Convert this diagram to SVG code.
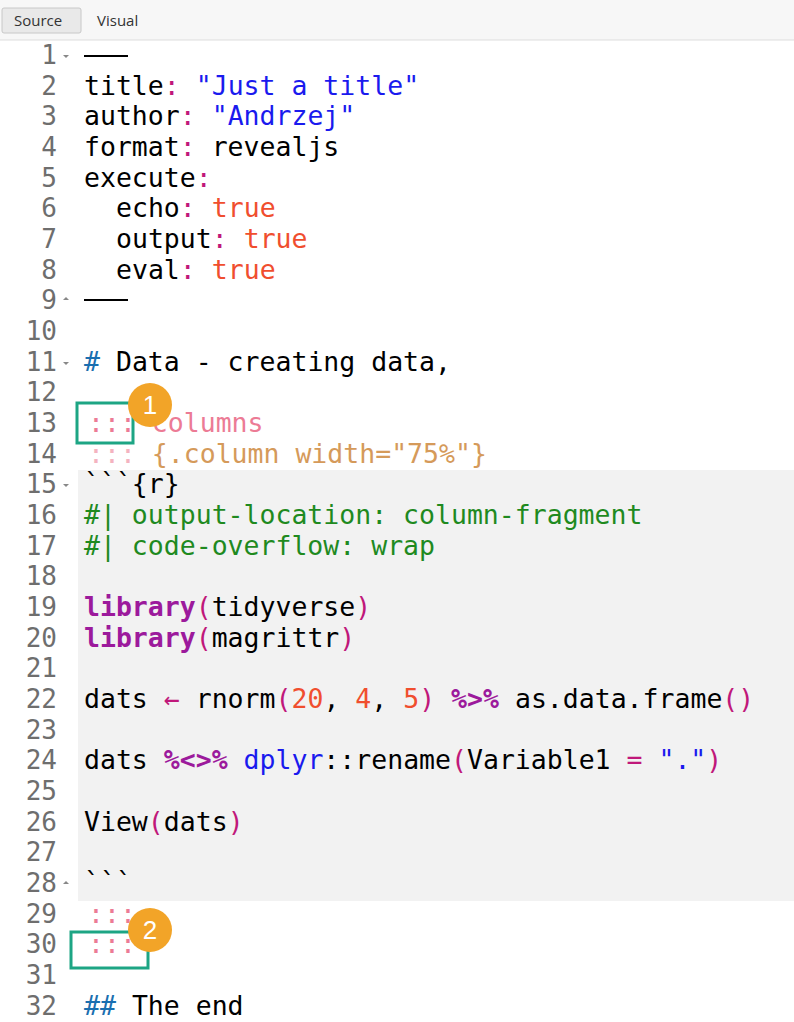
<svg xmlns="http://www.w3.org/2000/svg" width="794" height="1022" viewBox="0 0 794 1022">
<style>
.c{font-family:"DejaVu Sans Mono","Liberation Mono",monospace;font-size:26.5px;white-space:pre}
.n{font-family:"DejaVu Sans Mono","Liberation Mono",monospace;font-size:26px;fill:#6e6e6e;text-anchor:end}
.k{fill:#000}.p{fill:#c0187a}.s{fill:#1a1aee}.t{fill:#f04e2e}.g{fill:#1f8a1f}.l{fill:#9c1a9c;font-weight:bold}.pk{fill:#ec7b95}.pl{fill:#f4b3c0}.o{fill:#d59a5a}.b{fill:#1a6fb0}
.ui{font-family:"Segoe UI","Open Sans",sans-serif;font-size:15px;fill:#333}
.box{fill:none;stroke:#1da584;stroke-width:3}
.badge{fill:#f2a428}
.bt{font-family:"Liberation Sans",sans-serif;font-size:26px;fill:#fff;text-anchor:middle}
</style>
<rect width="794" height="1022" fill="#fff"/>
<g id="toolbar">
<rect x="0" y="0" width="794" height="40" fill="#f7f7f7"/>
<line x1="0" y1="40" x2="794" y2="40" stroke="#ddd"/>
<rect x="2" y="8" width="79" height="25" rx="2" fill="#e9e9e9" stroke="#c8c8c8"/>
<text class="ui" x="14" y="26">Source</text>
<text class="ui" x="97" y="26">Visual</text>
</g>
<rect id="chunk" x="78" y="470" width="716" height="431" fill="#f2f2f2"/>
<g id="gutter">
<text class="n" x="57" y="64">1</text><text class="n" x="57" y="95">2</text><text class="n" x="57" y="125">3</text><text class="n" x="57" y="156">4</text><text class="n" x="57" y="187">5</text><text class="n" x="57" y="217">6</text><text class="n" x="57" y="248">7</text><text class="n" x="57" y="279">8</text><text class="n" x="57" y="309">9</text><text class="n" x="57" y="340">10</text><text class="n" x="57" y="371">11</text><text class="n" x="57" y="401">12</text><text class="n" x="57" y="432">13</text><text class="n" x="57" y="463">14</text><text class="n" x="57" y="493">15</text><text class="n" x="57" y="524">16</text><text class="n" x="57" y="555">17</text><text class="n" x="57" y="585">18</text><text class="n" x="57" y="616">19</text><text class="n" x="57" y="647">20</text><text class="n" x="57" y="677">21</text><text class="n" x="57" y="708">22</text><text class="n" x="57" y="739">23</text><text class="n" x="57" y="769">24</text><text class="n" x="57" y="800">25</text><text class="n" x="57" y="831">26</text><text class="n" x="57" y="861">27</text><text class="n" x="57" y="892">28</text><text class="n" x="57" y="923">29</text><text class="n" x="57" y="953">30</text><text class="n" x="57" y="984">31</text><text class="n" x="57" y="1015">32</text>
<g fill="#888"><path d="M63,55 h6 l-3,3z"/><path d="M63,300 h6 l-3,-3z"/><path d="M63,362 h6 l-3,3z"/><path d="M63,484 h6 l-3,3z"/><path d="M63,884 h6 l-3,-3z"/></g>
</g>
<g id="code" class="c">
<line x1="84" y1="56" x2="128" y2="56" stroke="#000" stroke-width="2"/>
<text x="84" y="95"><tspan class="k">title</tspan><tspan class="p">:</tspan> <tspan class="s">"Just a title"</tspan></text>
<text x="84" y="125"><tspan class="k">author</tspan><tspan class="p">:</tspan> <tspan class="s">"Andrzej"</tspan></text>
<text x="84" y="156"><tspan class="k">format</tspan><tspan class="p">:</tspan><tspan class="k"> revealjs</tspan></text>
<text x="84" y="187"><tspan class="k">execute</tspan><tspan class="p">:</tspan></text>
<text x="116" y="217"><tspan class="k">echo</tspan><tspan class="p">:</tspan> <tspan class="t">true</tspan></text>
<text x="116" y="248"><tspan class="k">output</tspan><tspan class="p">:</tspan> <tspan class="t">true</tspan></text>
<text x="116" y="279"><tspan class="k">eval</tspan><tspan class="p">:</tspan> <tspan class="t">true</tspan></text>
<line x1="84" y1="300" x2="128" y2="300" stroke="#000" stroke-width="2"/>
<text x="84" y="371"><tspan class="b">#</tspan><tspan class="k"> Data - creating data,</tspan></text>
<text x="88" y="432"><tspan class="pk">::: columns</tspan></text>
<text x="88" y="463"><tspan class="pl">:::</tspan><tspan class="o"> {.column width="75%"}</tspan></text>
<text x="84" y="493" class="k">```{r}</text>
<text x="84" y="524" class="g">#| output-location: column-fragment</text>
<text x="84" y="555" class="g">#| code-overflow: wrap</text>
<text x="84" y="616"><tspan class="l">library</tspan><tspan class="p">(</tspan><tspan class="k">tidyverse</tspan><tspan class="p">)</tspan></text>
<text x="84" y="647"><tspan class="l">library</tspan><tspan class="p">(</tspan><tspan class="k">magrittr</tspan><tspan class="p">)</tspan></text>
<text x="84" y="708"><tspan class="k">dats </tspan><tspan class="p">←</tspan><tspan class="k"> rnorm</tspan><tspan class="p">(</tspan><tspan class="t">20</tspan><tspan class="k">, </tspan><tspan class="t">4</tspan><tspan class="k">, </tspan><tspan class="t">5</tspan><tspan class="p">)</tspan><tspan class="k"> </tspan><tspan class="l">%&gt;%</tspan><tspan class="k"> as.data.frame</tspan><tspan class="p">()</tspan></text>
<text x="84" y="769"><tspan class="k">dats </tspan><tspan class="l">%&lt;&gt;%</tspan><tspan class="k"> </tspan><tspan class="s">dplyr</tspan><tspan class="k">::rename</tspan><tspan class="p">(</tspan><tspan class="k">Variable1 </tspan><tspan class="p">=</tspan><tspan class="k"> </tspan><tspan class="s">"."</tspan><tspan class="p">)</tspan></text>
<text x="84" y="831"><tspan class="k">View</tspan><tspan class="p">(</tspan><tspan class="k">dats</tspan><tspan class="p">)</tspan></text>
<text x="84" y="892" class="k">```</text>
<text x="88" y="923" class="pk">:::</text>
<text x="88" y="953" class="pk">:::</text>
<text x="84" y="1015"><tspan class="b">##</tspan><tspan class="k"> The end</tspan></text>
</g>
<g id="callout1"><rect class="box" x="77" y="403" width="56" height="40"/><circle class="badge" cx="150" cy="405" r="22"/><text class="bt" x="150" y="414">1</text></g>
<g id="callout2"><rect class="box" x="71" y="932" width="77" height="36"/><circle class="badge" cx="150" cy="930" r="22"/><text class="bt" x="150" y="939">2</text></g>
<g id="connectors"/>
</svg>
